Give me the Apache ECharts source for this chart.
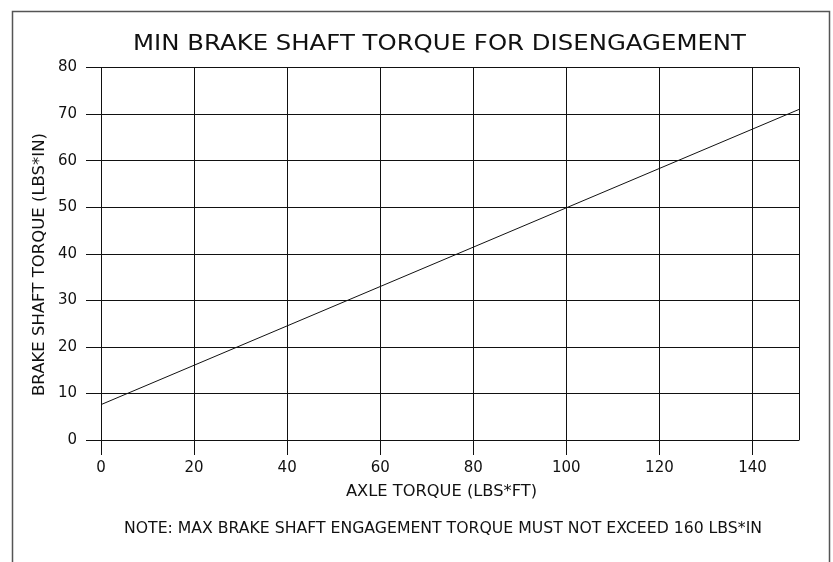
<!DOCTYPE html>
<html>
<head>
    <meta charset="UTF-8">
    <title>Min brake shaft torque</title>
    <script src="https://cdn.jsdelivr.net/npm/echarts@6/dist/echarts.min.js"></script>
    <style>
        html, body { margin: 0; padding: 0; background: #fff; }
        #chart { width: 833px; height: 562px; }
    </style>
</head>
<body>
<div id="chart"></div>
<script>
    // data
    var axleTorque = [0, 150];
    var brakeTorque = [7.6, 71];
    var xTicks = [0, 20, 40, 60, 80, 100, 120, 140];

    var font = 'DejaVu Sans';
    var ink = '#111';

    var lineData = [];
    for (var i = 0; i < axleTorque.length; i++) {
        lineData.push([axleTorque[i], brakeTorque[i]]);
    }

    // the CAD lettering is spaced out, so stretch texts to the widths seen in the reference
    var ctx = document.createElement('canvas').getContext('2d');
    function stretchText(str, size, cx, cy, width, rot) {
        ctx.font = size + 'px "' + font + '"';
        var w = ctx.measureText(str).width;
        return {
            type: 'text',
            x: cx, y: cy,
            rotation: rot || 0,
            scaleX: width / w,
            silent: true,
            style: {
                text: str, fontFamily: font, fontSize: size, fill: ink,
                align: 'center', verticalAlign: 'middle'
            }
        };
    }

    var myChart = echarts.init(document.getElementById('chart'));
    var option = {
        animation: false,
        backgroundColor: '#fff',
        grid: { left: 101, right: 34, top: 67.5, bottom: 122 },
        xAxis: {
            type: 'value',
            min: 0, max: 150, interval: 20,
            axisLine: { show: true, lineStyle: { color: ink, width: 1 } },
            axisTick: { show: true, length: 15, lineStyle: { color: ink } },
            axisLabel: {
                margin: 21, fontFamily: font, fontSize: 15, color: ink,
                showMaxLabel: false,
                formatter: function (v) { return xTicks.indexOf(v) >= 0 ? String(v) : ''; }
            },
            splitLine: { show: true, lineStyle: { color: ink, width: 1 } }
        },
        yAxis: {
            type: 'value',
            min: 0, max: 80, interval: 10,
            axisLine: { show: true, lineStyle: { color: ink, width: 1 } },
            axisTick: { show: true, length: 15, lineStyle: { color: ink } },
            axisLabel: { margin: 24, fontFamily: font, fontSize: 15, color: ink },
            splitLine: { show: true, lineStyle: { color: ink, width: 1 } }
        },
        graphic: [
            {
                type: 'rect',
                shape: { x: 12.5, y: 11.5, width: 817, height: 600 },
                style: { fill: 'none', stroke: '#555', lineWidth: 1.5 },
                silent: true
            },
            stretchText('MIN BRAKE SHAFT TORQUE FOR DISENGAGEMENT', 22, 439.5, 44, 613),
            stretchText('BRAKE SHAFT TORQUE (LBS*IN)', 15, 40.5, 264.5, 263, Math.PI / 2),
            stretchText('AXLE TORQUE (LBS*FT)', 15, 441.5, 492.5, 191),
            stretchText('NOTE: MAX BRAKE SHAFT ENGAGEMENT TORQUE MUST NOT EXCEED 160 LBS*IN', 15, 443, 529, 638)
        ],
        series: [
            {
                type: 'line',
                data: lineData,
                showSymbol: false,
                lineStyle: { color: ink, width: 1 }
            }
        ]
    };
    myChart.setOption(option);
</script>
</body>
</html>
